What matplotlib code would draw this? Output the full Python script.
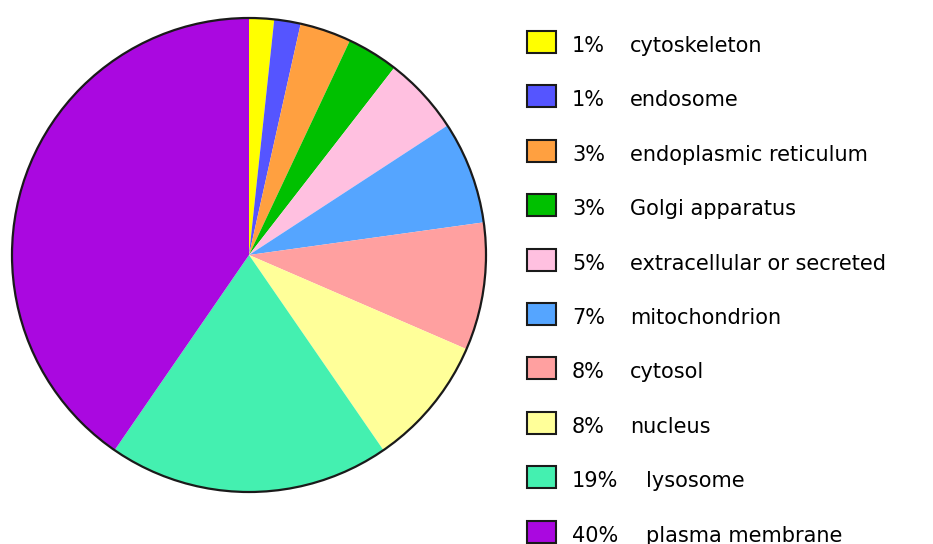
import matplotlib
matplotlib.use('Agg')
import matplotlib.pyplot as plt
from matplotlib.patches import Circle, Rectangle

# parts of the pie, clockwise from 12 o'clock
locations = ['cytoskeleton', 'endosome', 'endoplasmic reticulum', 'Golgi apparatus',
             'extracellular or secreted', 'mitochondrion', 'cytosol', 'nucleus',
             'lysosome', 'plasma membrane']
shares = [1.7, 1.8, 3.5, 3.5, 5.3, 7.0, 8.7, 8.9, 19.2, 40.4]
pct_labels = ['1%', '1%', '3%', '3%', '5%', '7%', '8%', '8%', '19%', '40%']
colors = ['#FFFF00', '#5555FF', '#FFA040', '#00C000', '#FFC0E0',
          '#55A5FF', '#FFA0A0', '#FFFF99', '#44F0B0', '#AA08E0']

W, H = 933, 544
fig = plt.figure(figsize=(W / 100, H / 100), dpi=100)
ax = fig.add_axes([0, 0, 1, 1])

cx, cy, r = 249, H - 255, 237
ax.pie(shares, colors=colors, startangle=90, counterclock=False,
       center=(cx, cy), radius=r, wedgeprops=dict(linewidth=0))
ax.add_patch(Circle((cx, cy), r, fill=False, ec='#1a1a1a', lw=1.6))

# legend, drawn by hand in pixel coords
for i, (name, pct, c) in enumerate(zip(locations, pct_labels, colors)):
    yc = H - (42 + 54.4 * i)
    ax.add_patch(Rectangle((527, yc - 11), 29, 22, fc=c, ec='#1a1a1a', lw=1.5))
    ax.text(572, yc - 10, pct, fontsize=15, va='baseline', ha='left')
    nx = 630 if len(pct) == 2 else 646
    ax.text(nx, yc - 10, name, fontsize=15, va='baseline', ha='left')

ax.set_xlim(0, W)
ax.set_ylim(0, H)
ax.set_aspect('equal')
ax.axis('off')

fig.savefig('out.png', dpi=100)
